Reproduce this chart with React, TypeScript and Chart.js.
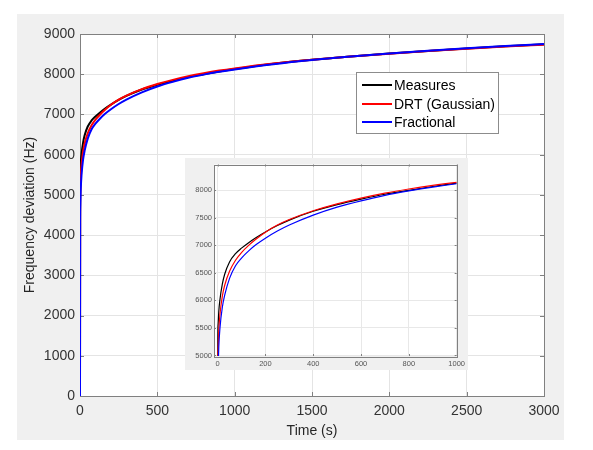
import React, { useEffect, useRef } from "react";
import { Chart, registerables } from "chart.js";

Chart.register(...registerables);

// Time axis (s)
const timeS = [0, 1, 2, 5, 10, 20, 30, 50, 75, 100, 130, 160, 200, 250, 300, 400, 500, 600, 700, 800, 900, 1000, 1250, 1500, 1750, 2000, 2250, 2500, 2750, 3000];
// Frequency deviation (Hz)
const measures = [0, 5300, 5550, 5800, 6020, 6300, 6480, 6700, 6850, 6950, 7050, 7140, 7245, 7360, 7460, 7620, 7740, 7840, 7930, 8000, 8070, 8130, 8260, 8360, 8440, 8515, 8580, 8640, 8695, 8745];
const drtGaussian = [0, 4800, 5100, 5450, 5750, 6080, 6280, 6530, 6730, 6870, 7000, 7110, 7240, 7370, 7470, 7630, 7755, 7860, 7950, 8025, 8090, 8145, 8265, 8360, 8440, 8510, 8575, 8635, 8690, 8735];
const fractional = [0, 4300, 4700, 5150, 5500, 5880, 6100, 6400, 6630, 6770, 6900, 7010, 7130, 7260, 7370, 7550, 7695, 7810, 7910, 7990, 8060, 8120, 8250, 8355, 8440, 8515, 8585, 8645, 8700, 8750];

// Tick labels
const mainXTicks = [0, 500, 1000, 1500, 2000, 2500, 3000];
const mainYTicks = [0, 1000, 2000, 3000, 4000, 5000, 6000, 7000, 8000, 9000];
const insetXTicks = [0, 200, 400, 600, 800, 1000];
const insetYTicks = [5000, 5500, 6000, 6500, 7000, 7500, 8000];

const seriesNames = ["Measures", "DRT (Gaussian)", "Fractional"];
const seriesColors = ["#000000", "#ff0000", "#0000ff"];

const FONT = "'Liberation Sans', Arial, Helvetica, sans-serif";

function pts(vals: number[]) {
  return timeS.map((t, i) => ({ x: t, y: vals[i] }));
}

function makeDatasets(width: number) {
  const all = [measures, drtGaussian, fractional];
  return all.map((v, i) => ({
    label: seriesNames[i],
    data: pts(v),
    borderColor: seriesColors[i],
    backgroundColor: seriesColors[i],
    borderWidth: width,
    pointRadius: 0,
    fill: false,
    cubicInterpolationMode: "monotone" as const,
    order: 3 - i,
  }));
}

const plain = (v: any) => String(v);

function framePlugin(bg: { x: number; y: number; w: number; h: number } | null, tickLen: number) {
  return {
    id: "frame",
    beforeDraw(chart: any) {
      const ctx = chart.ctx;
      const a = chart.chartArea;
      ctx.save();
      ctx.fillStyle = "#f0f0f0";
      if (bg) ctx.fillRect(bg.x, bg.y, bg.w, bg.h);
      else ctx.fillRect(0, 0, chart.width, chart.height);
      ctx.fillStyle = "#ffffff";
      ctx.fillRect(a.left, a.top, a.right - a.left, a.bottom - a.top);
      ctx.restore();
    },
    beforeDatasetsDraw(chart: any) {
      const ctx = chart.ctx;
      const a = chart.chartArea;
      const xs = chart.scales.x;
      const ys = chart.scales.y;
      ctx.save();
      ctx.strokeStyle = "#808080";
      ctx.lineWidth = 1;
      ctx.beginPath();
      xs.ticks.forEach((t: any) => {
        const px = Math.round(xs.getPixelForValue(t.value)) + 0.5;
        ctx.moveTo(px, a.bottom);
        ctx.lineTo(px, a.bottom - tickLen);
        ctx.moveTo(px, a.top);
        ctx.lineTo(px, a.top + tickLen);
      });
      ys.ticks.forEach((t: any) => {
        const py = Math.round(ys.getPixelForValue(t.value)) + 0.5;
        ctx.moveTo(a.left, py);
        ctx.lineTo(a.left + tickLen, py);
        ctx.moveTo(a.right, py);
        ctx.lineTo(a.right - tickLen, py);
      });
      ctx.stroke();
      ctx.strokeRect(Math.round(a.left) + 0.5, Math.round(a.top) + 0.5, Math.round(a.right - a.left), Math.round(a.bottom - a.top));
      ctx.restore();
    },
  };
}

const legendPlugin = {
  id: "customLegend",
  afterDraw(chart: any) {
    const ctx = chart.ctx;
    ctx.save();
    const bx = 356, by = 72, bw = 142, bh = 61;
    ctx.fillStyle = "#ffffff";
    ctx.fillRect(bx, by, bw, bh);
    ctx.strokeStyle = "#8c8c8c";
    ctx.lineWidth = 1;
    ctx.strokeRect(bx + 0.5, by + 0.5, bw, bh);
    const rows = [85, 104, 122];
    ctx.font = `14px ${FONT}`;
    ctx.textBaseline = "middle";
    ctx.textAlign = "left";
    rows.forEach((ry, i) => {
      ctx.strokeStyle = seriesColors[i];
      ctx.lineWidth = 2;
      ctx.beginPath();
      ctx.moveTo(362, ry);
      ctx.lineTo(392, ry);
      ctx.stroke();
      ctx.fillStyle = "#000000";
      ctx.fillText(seriesNames[i], 394, ry + 1);
    });
    ctx.restore();
  },
};

export default function App() {
  const mainRef = useRef<HTMLCanvasElement>(null);
  const insetRef = useRef<HTMLCanvasElement>(null);

  useEffect(() => {
    if (!mainRef.current || !insetRef.current) return;
    const main = new Chart(mainRef.current, {
      type: "line",
      data: { datasets: makeDatasets(2) as any },
      options: {
        responsive: false,
        animation: false,
        layout: { padding: { left: 0, top: 34, right: 49, bottom: 0 } },
        plugins: { legend: { display: false }, tooltip: { enabled: false } },
        scales: {
          x: {
            type: "linear",
            min: 0,
            max: 3000,
            ticks: { padding: 7, color: "#333333", font: { family: FONT, size: 14 }, maxRotation: 0, callback: plain },
            afterBuildTicks(scale: any) { scale.ticks = mainXTicks.map((v) => ({ value: v })); },
            grid: { color: "#e4e4e4", drawTicks: false },
            border: { display: false },
            title: { display: true, text: "Time (s)", color: "#262626", font: { family: FONT, size: 14 }, padding: { top: 0, bottom: 10 } },
            afterFit(scale: any) { scale.height = 54; },
          },
          y: {
            type: "linear",
            min: 0,
            max: 9000,
            ticks: { padding: 5, color: "#333333", font: { family: FONT, size: 14 }, callback: plain },
            afterBuildTicks(scale: any) { scale.ticks = mainYTicks.map((v) => ({ value: v })); },
            grid: { color: "#e4e4e4", drawTicks: false },
            border: { display: false },
            title: { display: true, text: "Frequency deviation (Hz)", color: "#262626", font: { family: FONT, size: 14 }, padding: { top: 22, bottom: 0 } },
            afterFit(scale: any) { scale.width = 80; },
          },
        },
      },
      plugins: [framePlugin({ x: 17, y: 14, w: 547, h: 426 }, 4), legendPlugin],
    } as any);

    const inset = new Chart(insetRef.current, {
      type: "line",
      data: { datasets: makeDatasets(1.2) as any },
      options: {
        responsive: false,
        animation: false,
        layout: { padding: { left: 0, top: 5, right: 9, bottom: 0 } },
        plugins: { legend: { display: false }, tooltip: { enabled: false } },
        scales: {
          x: {
            type: "linear",
            min: -15,
            max: 1000,
            ticks: { padding: 3, color: "#555555", font: { family: FONT, size: 7.5 }, maxRotation: 0, callback: plain },
            afterBuildTicks(scale: any) { scale.ticks = insetXTicks.map((v) => ({ value: v })); },
            grid: { color: "#e8e8e8", drawTicks: false },
            border: { display: false },
            afterFit(scale: any) { scale.height = 14; },
          },
          y: {
            type: "linear",
            min: 4990,
            max: 8470,
            ticks: { padding: 2, color: "#555555", font: { family: FONT, size: 7.5 }, callback: plain },
            afterBuildTicks(scale: any) { scale.ticks = insetYTicks.map((v) => ({ value: v })); },
            grid: { color: "#e8e8e8", drawTicks: false },
            border: { display: false },
            afterFit(scale: any) { scale.width = 29; },
          },
        },
      },
      plugins: [framePlugin(null, 2)],
    } as any);

    return () => {
      main.destroy();
      inset.destroy();
    };
  }, []);

  return (
    <div style={{ position: "absolute", left: 0, top: 0, width: 593, height: 450, background: "#ffffff" }}>
      <canvas ref={mainRef} width={593} height={450} style={{ position: "absolute", left: 0, top: 0, width: 593, height: 450 }} />
      <canvas ref={insetRef} width={283} height={212} style={{ position: "absolute", left: 185, top: 158, width: 283, height: 212 }} />
    </div>
  );
}
